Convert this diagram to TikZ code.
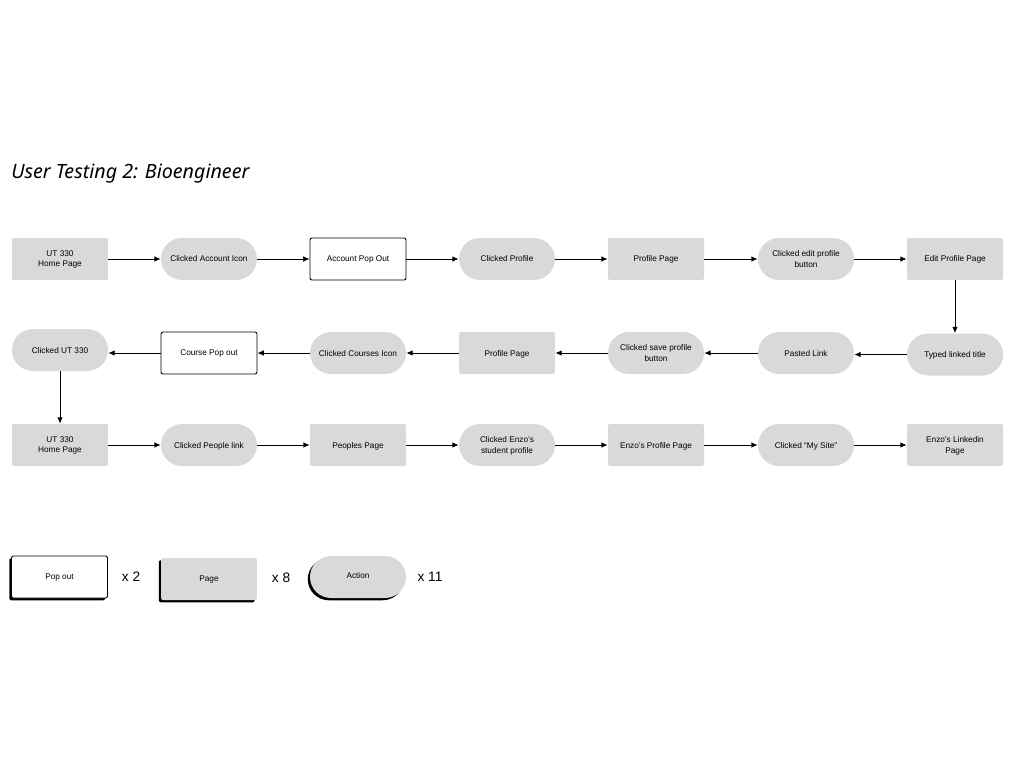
\documentclass[tikz,border=0pt]{standalone}
\usepackage{fontspec}
\setmainfont{Liberation Sans}
\newfontfamily\titlefont{Noto Sans}
\usetikzlibrary{arrows.meta,shadows}
\definecolor{boxgray}{HTML}{D9D9D9}

\tikzset{
  nodetext/.style={align=center, inner sep=0pt, text depth=0pt,
    font=\fontsize{4.7pt}{5.7pt}\selectfont},
  pagebox/.style={nodetext, fill=boxgray, rounded corners=0.04cm,
    minimum width=1.92cm, minimum height=0.84cm},
  actionbox/.style={nodetext, fill=boxgray, rounded corners=0.42cm,
    minimum width=1.92cm, minimum height=0.84cm},
  popbox/.style={nodetext, draw=black, line width=0.5pt, fill=white,
    rounded corners=0.04cm, minimum width=1.92cm, minimum height=0.84cm},
  flow/.style={-{Latex[length=3.6pt,width=3.2pt]}, line width=0.55pt},
  legendshadow/.style={general shadow={fill=black, shadow xshift=-0.045cm, shadow yshift=-0.045cm}},
  countlabel/.style={font=\fontsize{7.8pt}{9pt}\selectfont, inner sep=0pt}
}

\begin{document}
\begin{tikzpicture}[x=0.02cm, y=-0.02cm]
    \useasboundingbox[fill=white] (0,0) rectangle (1024,768);

    % Title
    \node[anchor=west, inner sep=0pt, font=\titlefont\itshape\fontsize{11.2pt}{13pt}\selectfont]
      (title) at (11,174) {User Testing 2: Bioengineer};

    % Row 1
    \node[pagebox]   (home1)    at (60,259)  {UT 330\\Home Page};
    \node[actionbox] (account)  at (209,259) {Clicked Account Icon};
    \node[popbox]    (accpop)   at (358,259) {Account Pop Out};
    \node[actionbox] (profile)  at (507,259) {Clicked Profile};
    \node[pagebox]   (profpage) at (656,259) {Profile Page};
    \node[actionbox] (editbtn)  at (806,259) {Clicked edit profile\\button};
    \node[pagebox]   (editpage) at (955,259) {Edit Profile Page};

    % Row 2 (right to left)
    \node[actionbox] (typed)    at (955,354.5) {Typed linked title};
    \node[actionbox] (pasted)   at (806,353) {Pasted Link};
    \node[actionbox] (savebtn)  at (656,353) {Clicked save profile\\button};
    \node[pagebox]   (profpage2) at (507,353) {Profile Page};
    \node[actionbox] (courses)  at (358,353) {Clicked Courses Icon};
    \node[popbox]    (coursepop) at (209,353) {Course Pop out};
    \node[actionbox] (clickut)  at (60,350)  {Clicked UT 330};

    % Row 3
    \node[pagebox]   (home2)    at (60,445)  {UT 330\\Home Page};
    \node[actionbox] (people)   at (209,445) {Clicked People link};
    \node[pagebox]   (peoples)  at (358,445) {Peoples Page};
    \node[actionbox] (enzo)     at (507,445) {Clicked Enzo’s\\student profile};
    \node[pagebox]   (enzopage) at (656,445) {Enzo’s Profile Page};
    \node[actionbox] (mysite)   at (806,445) {Clicked “My Site”};
    \node[pagebox]   (linkedin) at (955,445) {Enzo’s Linkedin\\Page};

    % Connectors row 1
    \draw[flow] (home1) -- (account);
    \draw[flow] (account) -- (accpop);
    \draw[flow] (accpop) -- (profile);
    \draw[flow] (profile) -- (profpage);
    \draw[flow] (profpage) -- (editbtn);
    \draw[flow] (editbtn) -- (editpage);
    \draw[flow] (editpage) -- (typed);

    % Connectors row 2
    \draw[flow] (typed.west) -- (typed.west -| pasted.east);
    \draw[flow] (pasted) -- (savebtn);
    \draw[flow] (savebtn) -- (profpage2);
    \draw[flow] (profpage2) -- (courses);
    \draw[flow] (courses) -- (coursepop);
    \draw[flow] (coursepop.west) -- (coursepop.west -| clickut.east);
    \draw[flow] (clickut) -- (home2);

    % Connectors row 3
    \draw[flow] (home2) -- (people);
    \draw[flow] (people) -- (peoples);
    \draw[flow] (peoples) -- (enzo);
    \draw[flow] (enzo) -- (enzopage);
    \draw[flow] (enzopage) -- (mysite);
    \draw[flow] (mysite) -- (linkedin);

    % Legend
    \node[popbox, legendshadow]    (legpop)    at (59.5,577) {Pop out};
    \node[countlabel] (countpop)    at (131,577) {x 2};
    \node[pagebox, legendshadow]   (legpage)   at (209,579) {Page};
    \node[countlabel] (countpage)   at (281,578) {x 8};
    \node[actionbox, legendshadow, text depth=1.2pt] (legaction) at (358,577) {Action};
    \node[countlabel] (countaction) at (430,577) {x 11};

  \end{tikzpicture}
\end{document}
